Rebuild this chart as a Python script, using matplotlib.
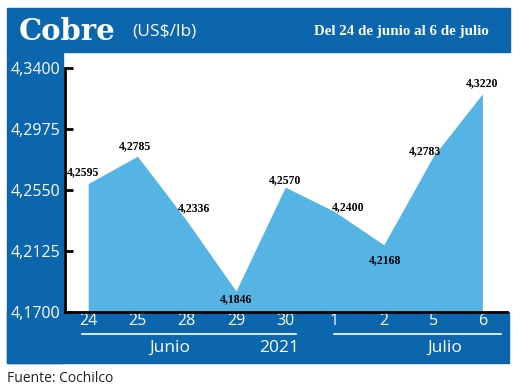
"""Cobre (US$/lb) price chart, 24 June to 6 July 2021."""

import matplotlib

matplotlib.use("Agg")
import matplotlib.pyplot as plt
from matplotlib.patches import Rectangle
from matplotlib.transforms import blended_transform_factory

DARK_BLUE = "#0b66ad"
FILL_BLUE = "#56b4e4"

days = ["24", "25", "28", "29", "30", "1", "2", "5", "6"]
prices = [4.2595, 4.2785, 4.2336, 4.1846, 4.2570, 4.2400, 4.2168, 4.2783, 4.3220]
price_labels = ["4,2595", "4,2785", "4,2336", "4,1846", "4,2570", "4,2400", "4,2168", "4,2783", "4,3220"]
y_ticks = [4.17, 4.2125, 4.255, 4.2975, 4.34]
y_tick_labels = ["4,1700", "4,2125", "4,2550", "4,2975", "4,3400"]

# label offsets in points (dx, dy)
label_offsets = [(-4, 8), (-2, 7), (5, 9), (0, -6), (0, 5), (10, 3), (1, -11), (-6, 4), (0, 8)]

W, H = 520, 390


def fx(px):
    return px / W


def fy(py):
    return 1 - py / H


def panel(fig, x0, y0, x1, y1):
    fig.patches.append(Rectangle((fx(x0), fy(y1)), fx(x1 - x0), (y1 - y0) / H,
                                 transform=fig.transFigure, color=DARK_BLUE, zorder=0))


def main() -> None:
    fig = plt.figure(figsize=(W / 100, H / 100), dpi=100)
    fig.patch.set_facecolor("white")

    # blue frame: title band, left panel, bottom band
    panel(fig, 7, 8, 510, 52)
    panel(fig, 7, 52, 63, 363)
    panel(fig, 7, 312, 509, 363)

    fig.text(fx(19), fy(31), "Cobre", color="white", fontsize=21, fontweight="bold",
             family="DejaVu Serif", va="center", ha="left")
    fig.text(fx(132), fy(32), "(US$/lb)", color="white", fontsize=12.5,
             family="Open Sans", va="center", ha="left")
    fig.text(fx(489), fy(32), "Del 24 de junio al 6 de julio", color="white", fontsize=10.8,
             family="Liberation Serif", fontweight="bold", va="center", ha="right")
    fig.text(fx(7), fy(378), "Fuente: Cochilco", color="#222222", fontsize=10,
             family="Open Sans", va="center", ha="left")

    ax = fig.add_axes([fx(65), fy(312), fx(507 - 65), (312 - 68) / H], zorder=1)
    ax.patch.set_alpha(0)
    x = list(range(len(days)))
    ax.fill_between(x, prices, 4.17, color=FILL_BLUE, linewidth=0)
    ax.set_xlim(-0.47, 8.5)
    ax.set_ylim(4.17, 4.34)

    for i, (value, text) in enumerate(zip(prices, price_labels)):
        ax.annotate(text, (i, value), xytext=label_offsets[i], textcoords="offset points",
                    ha="center", va="center", fontsize=8.5, fontweight="bold",
                    family="Liberation Serif", color="black")

    ax.set_yticks(y_ticks)
    ax.set_yticklabels(y_tick_labels, family="Open Sans", fontsize=11.5, color="white")
    ax.tick_params(axis="y", direction="in", length=6, width=2, pad=3, color="black")
    ax.set_xticks(x)
    ax.set_xticklabels(days, family="Open Sans", fontsize=11.5, color="white")
    ax.tick_params(axis="x", length=0, pad=1)

    for side in ("top", "right"):
        ax.spines[side].set_visible(False)
    ax.spines["left"].set_linewidth(2)
    ax.spines["bottom"].set_linewidth(2)

    # month separators and labels under the axis
    trans = blended_transform_factory(ax.transData, fig.transFigure)
    ax.plot([-0.12, 4.21], [fy(334), fy(334)], color="white", linewidth=1.2,
            transform=trans, clip_on=False)
    ax.plot([4.98, 8.38], [fy(334), fy(334)], color="white", linewidth=1.2,
            transform=trans, clip_on=False)
    for xpos, text in [(1.66, "Junio"), (3.87, "2021"), (7.23, "Julio")]:
        ax.text(xpos, fy(348), text, transform=trans, color="white", fontsize=12.5,
                family="Open Sans", ha="center", va="center")

    fig.savefig("out.png", dpi=100)
    plt.close(fig)


if __name__ == "__main__":
    main()
